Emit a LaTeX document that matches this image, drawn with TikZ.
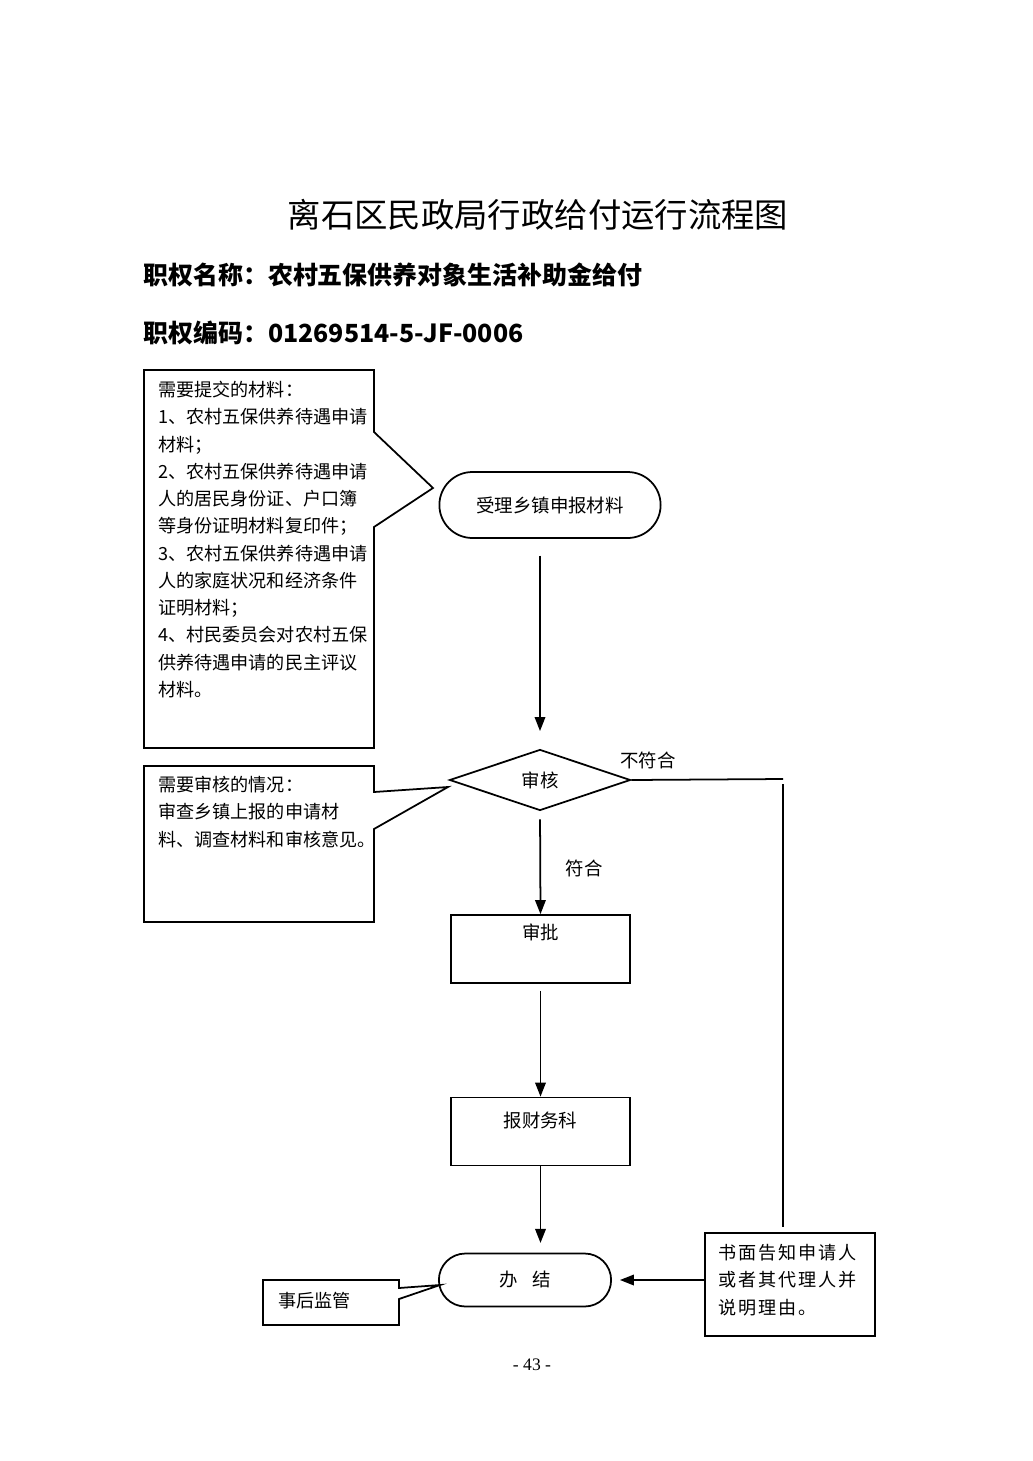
\documentclass[tikz,border=0pt]{standalone}
\usepackage{fontspec}
\setmainfont{Noto Sans CJK SC}
\newfontfamily\pagefont{Liberation Serif}
\newfontfamily\widecjk[LetterSpace=11]{Noto Sans CJK SC}
\usetikzlibrary{arrows.meta,shapes.geometric,shapes.misc,positioning}

\begin{document}
\begin{tikzpicture}[x=0.02cm,y=-0.02cm,
    flow/.style={-{Triangle[width=6pt,length=8pt]},line width=1pt},
    link/.style={line width=1pt},
    note/.style={font=\fontsize{10.3}{15.5}\selectfont,inner sep=0pt,align=left,anchor=north west},
    procbox/.style={draw,line width=1pt,minimum width=3.58cm,minimum height=1.36cm,
      inner ysep=0pt,font=\fontsize{10.5}{13}\selectfont},
    endbox/.style={draw,rounded rectangle,line width=1pt,font=\fontsize{10.5}{13}\selectfont}]
  \useasboundingbox (0,0) rectangle (1033,1461);
  % Title and headings
  \node (title) at (538,215) {\fontsize{19}{19}\selectfont 离石区民政局行政给付运行流程图};
  \node[anchor=west,inner sep=0pt] (name) at (143,275)
      {\fontsize{14.2}{14.2}\bfseries 职权名称：农村五保供养对象生活补助金给付};
  \node[anchor=west,inner sep=0pt] (code) at (143,333)
      {\fontsize{14.2}{14.2}\bfseries 职权编码：01269514-5-JF-0006};
  % Main flow
  \node[endbox,minimum width=4.66cm,minimum height=1.32cm] (recv) at (550,505) {受理乡镇申报材料};
  \node[draw,diamond,line width=1pt,inner sep=0pt,minimum width=3.62cm,minimum height=1.22cm,
      font=\fontsize{10.5}{13}\selectfont] (chk) at (540,780) {审核};
  \node[procbox,text height=0.4cm,text depth=0.8cm] (appr) at (540.5,949) {审批};
  \node[procbox,text height=0.4cm,text depth=0.58cm] (pay) at (540.5,1131.5) {报财务科};
  \node[endbox,minimum width=3.68cm,minimum height=1.06cm] (fin) at (525,1280) {办\hspace{0.3cm}结};
  \node[draw,line width=1pt,minimum width=3.4cm,minimum height=2.06cm] (notify) at (790,1284.5) {};
  \coordinate (turn) at (783,779);
  \draw[flow,shorten <=9.5pt,shorten >=10pt] (recv.south -| chk.north) -- (chk.north);
  \draw[flow,shorten <=4.5pt] (chk.south) -- (appr.north);
  \node (ok) at (584,868) {\fontsize{10.5}{13}\selectfont 符合};
  \draw[flow,shorten <=4pt] (appr.south) -- (pay.north);
  \draw[flow,shorten >=5.5pt] (pay.south) -- (pay.south |- fin.north);
  \draw[link] (chk.east) -- (turn);
  \node (no) at (648,760) {\fontsize{10.5}{13}\selectfont 不符合};
  \draw[link,shorten <=3pt,shorten >=3pt] (turn) -- (turn |- notify.north);
  \draw[flow,shorten >=4.5pt] (notify.west |- fin.east) -- (fin.east);
  % Callout boxes
  \draw[link] (144,370) -- (374,370) -- (374,432) -- (433,488) -- (374,527)
      -- (374,748) -- (144,748) -- cycle;
  \node[note] (mat) at (158,381) {需要提交的材料：\\
      1、农村五保供养待遇申请\\ 材料；\\
      2、农村五保供养待遇申请\\ 人的居民身份证、户口簿\\ 等身份证明材料复印件；\\
      3、农村五保供养待遇申请\\ 人的家庭状况和经济条件\\ 证明材料；\\
      4、村民委员会对农村五保\\ 供养待遇申请的民主评议\\ 材料。};
  \draw[link] (144,766) -- (374,766) -- (374,792) -- (448,787) -- (374,829)
      -- (374,922) -- (144,922) -- cycle;
  \node[note] (need) at (158,776) {需要审核的情况：\\ 审查乡镇上报的申请材\\ 料、调查材料和审核意见。};
  \draw[link] (263,1280) -- (399,1280) -- (399,1288) -- (440,1285) -- (399,1299)
      -- (399,1325) -- (263,1325) -- cycle;
  \node[note] (post) at (278,1292) {事后监管};
  \node[note,font=\widecjk\fontsize{10.3}{15.5}\selectfont] (why) at (718,1244)
      {书面告知申请人\\ 或者其代理人并\\ 说明理由。};
  % Page number
  \node (page) at (532,1365) {\pagefont\fontsize{10}{12}\selectfont - 43 -};
\end{tikzpicture}
\end{document}
